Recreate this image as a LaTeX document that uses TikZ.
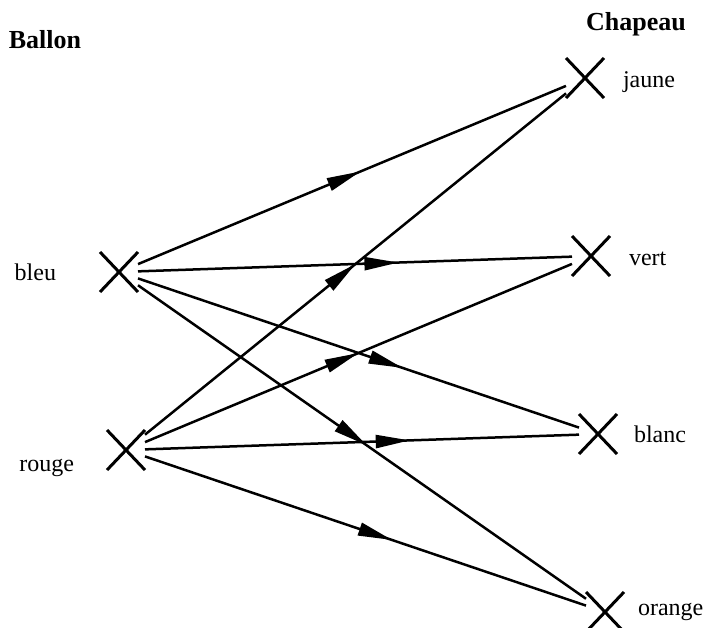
\documentclass[tikz,border=0pt]{standalone}
\usepackage{fontspec}
\setmainfont{Liberation Serif}
\usetikzlibrary{positioning, shapes.misc, arrows.meta, decorations.markings}

\begin{document}
\begin{tikzpicture}[x=0.5pt, y=-0.5pt,
    place/.style={cross out, draw, line width=1.5pt, minimum width=15pt, minimum height=16pt, inner sep=0pt, outer sep=2pt},
    lbl/.style={inner sep=0pt, outer sep=0pt, font=\fontsize{12}{14}\selectfont},
    title/.style={inner sep=0pt, outer sep=0pt, font=\fontsize{13}{15}\selectfont\bfseries},
    midarrow/.style={postaction={decorate}, decoration={markings, mark=at position #1 with {\arrow{Triangle[length=17pt,width=6.5pt]}}}}]
    \useasboundingbox (0,0) rectangle (705,627);

    	\node[place] (bleu) at (119,272) {};
    	\node[place] (rouge) at (126,450) {};
    	\node[place] (jaune) at (585,78) {};
    	\node[place] (vert) at (591,256) {};
    	\node[place] (blanc) at (598,434) {};
    	\node[place] (orange) at (605,612) {};
    %
    	\node[lbl] (tbleu) [left=22pt of bleu] {bleu};
    	\node[lbl] (trouge) [left=16.5pt of rouge, yshift=-9pt] {rouge};
    	\node[lbl] (tjaune) [right=9.5pt of jaune, yshift=-2pt] {jaune};
    	\node[lbl] (tvert) [right=9.5pt of vert, yshift=-1.5pt] {vert};
    	\node[lbl] (tblanc) [right=8.5pt of blanc] {blanc};
    	\node[lbl] (torange) [right=7pt of orange] {orange};
    	\node[title] (tballon) at (45,40) {Ballon};
    	\node[title] (tchapeau) at (636,24) {Chapeau};
    %
    	\path[line width=1.25pt] (bleu) edge[midarrow=0.52] (jaune)
    	 (bleu) edge[midarrow=0.6] (vert)
    	 (bleu) edge[midarrow=0.6] (blanc)
    	 (bleu) edge[midarrow=0.51] (orange)
    	 (rouge) edge[midarrow=0.5] (jaune)
    	 (rouge) edge[midarrow=0.5] (vert)
    	 (rouge) edge[midarrow=0.61] (blanc)
    	 (rouge) edge[midarrow=0.56] (orange);

\end{tikzpicture}
\end{document}
